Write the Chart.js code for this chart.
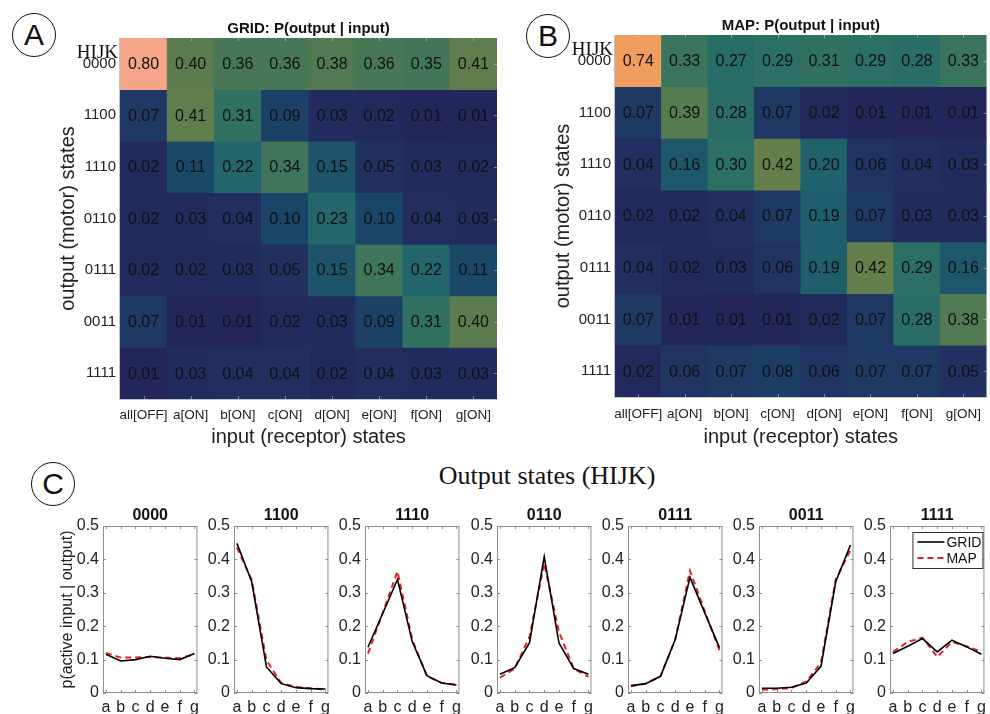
<!DOCTYPE html>
<html>
<head>
<meta charset="utf-8">
<script src="https://cdn.jsdelivr.net/npm/chart.js@4.4.1/dist/chart.umd.min.js"></script>
<style>
body { margin: 0; background: #fff; width: 990px; height: 714px; position: relative; overflow: hidden; font-family: "Liberation Sans", Arial, sans-serif; }
canvas { position: absolute; }
.tag { position: absolute; width: 42px; height: 42px; border: 1.5px solid #111; border-radius: 50%; font-size: 30px; line-height: 42px; text-align: center; color: #111; }
#ctitle { position: absolute; left: 347px; width: 400px; top: 461px; text-align: center; font: 26px "Liberation Serif", serif; color: #111; }
</style>
</head>
<body>
<div class="tag" style="left:12px;top:13px">A</div>
<div class="tag" style="left:526px;top:14px">B</div>
<div class="tag" style="left:31px;top:462px">C</div>
<div id="ctitle">Output states (HIJK)</div>
<canvas id="heatA" width="500" height="450" style="left:0;top:0"></canvas>
<canvas id="heatB" width="495" height="450" style="left:495px;top:0"></canvas>

<script>
const rowStates = ['0000', '1100', '1110', '0110', '0111', '0011', '1111'];
const inputStates = ['all[OFF]', 'a[ON]', 'b[ON]', 'c[ON]', 'd[ON]', 'e[ON]', 'f[ON]', 'g[ON]'];

// P(output | input), rows = output states, cols = input states
const gridProbs = [
    [0.80, 0.40, 0.36, 0.36, 0.38, 0.36, 0.35, 0.41],
    [0.07, 0.41, 0.31, 0.09, 0.03, 0.02, 0.01, 0.01],
    [0.02, 0.11, 0.22, 0.34, 0.15, 0.05, 0.03, 0.02],
    [0.02, 0.03, 0.04, 0.10, 0.23, 0.10, 0.04, 0.03],
    [0.02, 0.02, 0.03, 0.05, 0.15, 0.34, 0.22, 0.11],
    [0.07, 0.01, 0.01, 0.02, 0.03, 0.09, 0.31, 0.40],
    [0.01, 0.03, 0.04, 0.04, 0.02, 0.04, 0.03, 0.03]
];
const mapProbs = [
    [0.74, 0.33, 0.27, 0.29, 0.31, 0.29, 0.28, 0.33],
    [0.07, 0.39, 0.28, 0.07, 0.02, 0.01, 0.01, 0.01],
    [0.04, 0.16, 0.30, 0.42, 0.20, 0.06, 0.04, 0.03],
    [0.02, 0.02, 0.04, 0.07, 0.19, 0.07, 0.03, 0.03],
    [0.04, 0.02, 0.03, 0.06, 0.19, 0.42, 0.29, 0.16],
    [0.07, 0.01, 0.01, 0.01, 0.02, 0.07, 0.28, 0.38],
    [0.02, 0.06, 0.07, 0.08, 0.06, 0.07, 0.07, 0.05]
];

// p(active input | output) for each output state, inputs a..g
const inputLetters = ['a', 'b', 'c', 'd', 'e', 'f', 'g'];
const gridCurves = [
    [0.116, 0.096, 0.100, 0.110, 0.104, 0.100, 0.118],
    [0.448, 0.333, 0.078, 0.028, 0.016, 0.013, 0.012],
    [0.137, 0.238, 0.340, 0.154, 0.052, 0.030, 0.024],
    [0.056, 0.076, 0.150, 0.408, 0.150, 0.073, 0.056],
    [0.022, 0.028, 0.050, 0.160, 0.346, 0.240, 0.136],
    [0.014, 0.014, 0.017, 0.030, 0.080, 0.333, 0.443],
    [0.118, 0.140, 0.163, 0.123, 0.158, 0.138, 0.116]
];
const mapCurves = [
    [0.120, 0.106, 0.106, 0.108, 0.106, 0.104, 0.116],
    [0.436, 0.338, 0.098, 0.030, 0.018, 0.014, 0.010],
    [0.118, 0.240, 0.364, 0.160, 0.050, 0.030, 0.025],
    [0.046, 0.073, 0.168, 0.388, 0.183, 0.073, 0.048],
    [0.020, 0.028, 0.050, 0.160, 0.366, 0.245, 0.128],
    [0.010, 0.012, 0.015, 0.035, 0.090, 0.340, 0.428],
    [0.123, 0.153, 0.166, 0.108, 0.153, 0.140, 0.123]
];

const SANS = '"Liberation Sans", Arial, sans-serif';
Chart.defaults.font.family = SANS;
Chart.defaults.color = '#222';

// colour map: navy -> teal -> olive -> orange -> salmon
const cmap = [
    [0.00, [35, 36, 90]],
    [0.05, [33, 48, 96]],
    [0.10, [25, 70, 104]],
    [0.20, [32, 98, 108]],
    [0.30, [44, 112, 100]],
    [0.40, [90, 124, 78]],
    [0.50, [140, 135, 70]],
    [0.60, [200, 145, 80]],
    [0.74, [240, 158, 96]],
    [0.80, [246, 166, 136]]
];
function cellColor(v) {
    for (let k = 1; k < cmap.length; k++) {
        if (v <= cmap[k][0]) {
            const [v0, c0] = cmap[k - 1], [v1, c1] = cmap[k];
            const t = (v - v0) / (v1 - v0);
            const c = c0.map((x, i) => Math.round(x + (c1[i] - x) * t));
            return `rgb(${c[0]},${c[1]},${c[2]})`;
        }
    }
    const c = cmap[cmap.length - 1][1];
    return `rgb(${c[0]},${c[1]},${c[2]})`;
}

function heatDecor(title) {
    return {
        id: 'heatDecor',
        afterDatasetsDraw(chart) {
            const { ctx, chartArea: a, scales } = chart;
            ctx.save();
            ctx.font = '16px ' + SANS;
            ctx.fillStyle = '#111';
            ctx.textAlign = 'center';
            ctx.textBaseline = 'middle';
            chart.data.datasets.forEach((ds, i) => {
                chart.getDatasetMeta(i).data.forEach((bar, j) => {
                    ctx.fillText(ds.probs[j].toFixed(2), bar.x, (bar.y + bar.base) / 2 + 1);
                });
            });
            // light axis lines + small inward ticks
            ctx.strokeStyle = '#c4c4c4';
            ctx.lineWidth = 1;
            ctx.beginPath();
            ctx.moveTo(a.left - 0.5, a.top);
            ctx.lineTo(a.left - 0.5, a.bottom + 0.5);
            ctx.lineTo(a.right, a.bottom + 0.5);
            ctx.stroke();
            ctx.strokeStyle = 'rgba(200,200,200,0.55)';
            ctx.beginPath();
            scales.x.ticks.forEach((t, k) => {
                const x = Math.round(scales.x.getPixelForTick(k)) + 0.5;
                ctx.moveTo(x, a.top); ctx.lineTo(x, a.top + 3);
                ctx.moveTo(x, a.bottom); ctx.lineTo(x, a.bottom - 3);
            });
            scales.y.ticks.forEach((t, k) => {
                const y = Math.round(scales.y.getPixelForTick(k)) + 0.5;
                ctx.moveTo(a.right, y); ctx.lineTo(a.right - 3, y);
            });
            ctx.stroke();
            // title
            ctx.fillStyle = '#111';
            ctx.textBaseline = 'alphabetic';
            ctx.font = 'bold 15px ' + SANS;
            ctx.fillText(title, (a.left + a.right) / 2, a.top - 5);
            ctx.font = '19px "Liberation Serif", serif';
            ctx.textAlign = 'right';
            ctx.fillText('HIJK', a.left - 2, a.top + 20);
            ctx.restore();
        }
    };
}

function drawHeatmap(id, title, probs, opt) {
    new Chart(document.getElementById(id), {
        type: 'bar',
        data: {
            labels: inputStates,
            datasets: rowStates.map((r, i) => ({
                label: r,
                probs: probs[i],
                data: probs[i].map(() => [i, i + 1]),
                backgroundColor: probs[i].map(cellColor),
                borderWidth: 0,
                grouped: false,
                barPercentage: 1,
                categoryPercentage: 1
            }))
        },
        options: {
            responsive: false,
            animation: false,
            layout: { padding: { top: opt.top, right: opt.right, bottom: 1, left: 0 } },
            plugins: { legend: { display: false }, tooltip: { enabled: false } },
            scales: {
                x: {
                    grid: { display: false, drawTicks: false },
                    border: { display: false },
                    ticks: { font: { size: 13.5 }, padding: opt.tickPad, maxRotation: 0, autoSkip: false },
                    title: { display: true, text: 'input (receptor) states', font: { size: 20 }, padding: { top: 0, bottom: 0 } },
                    afterFit: s => { s.height = opt.xh; }
                },
                y: {
                    type: 'linear',
                    reverse: true,
                    min: 0,
                    max: rowStates.length,
                    grid: { display: false, drawTicks: false },
                    border: { display: false },
                    afterBuildTicks: s => { s.ticks = rowStates.map((r, i) => ({ value: i + 0.5 })); },
                    ticks: { font: { size: 15 }, padding: 4, callback: (v, i) => rowStates[i] },
                    title: { display: true, text: 'output (motor) states', font: { size: 20 }, padding: { top: 56, bottom: 0 } },
                    afterFit: s => { s.width = 120; }
                }
            }
        },
        plugins: [heatDecor(title)]
    });
}

drawHeatmap('heatA', 'GRID: P(output | input)', gridProbs, { top: 38, right: 3, xh: 50, tickPad: 8 });
drawHeatmap('heatB', 'MAP: P(output | input)', mapProbs, { top: 35, right: 0, xh: 52, tickPad: 9 });

function curveDecor(title, withLegend) {
    return {
        id: 'curveDecor',
        afterDraw(chart) {
            const { ctx, chartArea: a, scales } = chart;
            ctx.save();
            ctx.strokeStyle = '#8e8e8e';
            ctx.lineWidth = 1;
            ctx.strokeRect(a.left + 0.5, a.top + 0.5, a.width - 1, a.height - 1);
            ctx.beginPath();
            scales.x.ticks.forEach((t, k) => {
                const x = Math.round(scales.x.getPixelForTick(k)) + 0.5;
                ctx.moveTo(x, a.top); ctx.lineTo(x, a.top + 3);
                ctx.moveTo(x, a.bottom); ctx.lineTo(x, a.bottom - 3);
            });
            scales.y.ticks.forEach((t, k) => {
                const y = Math.round(scales.y.getPixelForTick(k)) + 0.5;
                ctx.moveTo(a.left, y); ctx.lineTo(a.left + 3, y);
                ctx.moveTo(a.right, y); ctx.lineTo(a.right - 3, y);
            });
            ctx.stroke();
            ctx.fillStyle = '#111';
            ctx.font = 'bold 16px ' + SANS;
            ctx.textAlign = 'center';
            ctx.fillText(title, (a.left + a.right) / 2, a.top - 6);
            if (withLegend) {
                const w = 70, h = 36, x0 = a.right - w - 2, y0 = a.top + 6;
                ctx.fillStyle = '#fff';
                ctx.fillRect(x0, y0, w, h);
                ctx.strokeStyle = '#333';
                ctx.strokeRect(x0 + 0.5, y0 + 0.5, w, h);
                ctx.font = '14px ' + SANS;
                ctx.textAlign = 'left';
                ctx.textBaseline = 'middle';
                chart.data.datasets.forEach((ds, i) => {
                    const y = y0 + 10 + i * 16;
                    ctx.strokeStyle = ds.borderColor;
                    ctx.lineWidth = ds.borderWidth;
                    ctx.setLineDash(ds.borderDash || []);
                    ctx.beginPath();
                    ctx.moveTo(x0 + 5, y); ctx.lineTo(x0 + 32, y);
                    ctx.stroke();
                    ctx.setLineDash([]);
                    ctx.fillStyle = '#111';
                    ctx.fillText(ds.label, x0 + 34, y + 1);
                });
            }
            ctx.restore();
        }
    };
}

function drawCurve(k) {
    const first = k === 0;
    const yw = first ? 51 : 36;
    const frameLeft = Math.round(103 + 131.2 * k);
    const canvas = document.createElement('canvas');
    canvas.width = yw + 101;
    canvas.height = 214;
    canvas.style.left = (frameLeft - yw) + 'px';
    canvas.style.top = '500px';
    document.body.appendChild(canvas);

    new Chart(canvas, {
        type: 'line',
        data: {
            datasets: [
                {
                    label: 'GRID',
                    data: gridCurves[k].map((v, i) => ({ x: i + 1, y: v })),
                    borderColor: '#000',
                    borderWidth: 1.6,
                    pointRadius: 0,
                    tension: 0
                },
                {
                    label: 'MAP',
                    data: mapCurves[k].map((v, i) => ({ x: i + 1, y: v })),
                    borderColor: '#e8202a',
                    borderWidth: 2,
                    borderDash: [6, 4],
                    pointRadius: 0,
                    tension: 0
                }
            ]
        },
        options: {
            responsive: false,
            animation: false,
            layout: { padding: { top: 26, right: 2, bottom: 0, left: 0 } },
            plugins: { legend: { display: false }, tooltip: { enabled: false } },
            scales: {
                x: {
                    type: 'linear',
                    min: 0.8,
                    max: 7.2,
                    grid: { display: false, drawTicks: false },
                    border: { display: false },
                    afterBuildTicks: s => { s.ticks = inputLetters.map((l, i) => ({ value: i + 1 })); },
                    ticks: { font: { size: 16 }, padding: 5, maxRotation: 0, autoSkip: false, callback: (v, i) => inputLetters[i] },
                    afterFit: s => { s.height = 21; }
                },
                y: {
                    min: 0,
                    max: 0.5,
                    grid: { display: false, drawTicks: false },
                    border: { display: false },
                    ticks: { stepSize: 0.1, font: { size: 16 }, padding: 4, callback: v => v === 0 ? '0' : v.toFixed(1) },
                    title: { display: first, text: 'p(active input | output)', font: { size: 16 }, padding: { top: 6, bottom: 0 } },
                    afterFit: s => { s.width = yw; }
                }
            }
        },
        plugins: [curveDecor(rowStates[k], k === rowStates.length - 1)]
    });
}

rowStates.forEach((r, k) => drawCurve(k));
</script>
</body>
</html>
